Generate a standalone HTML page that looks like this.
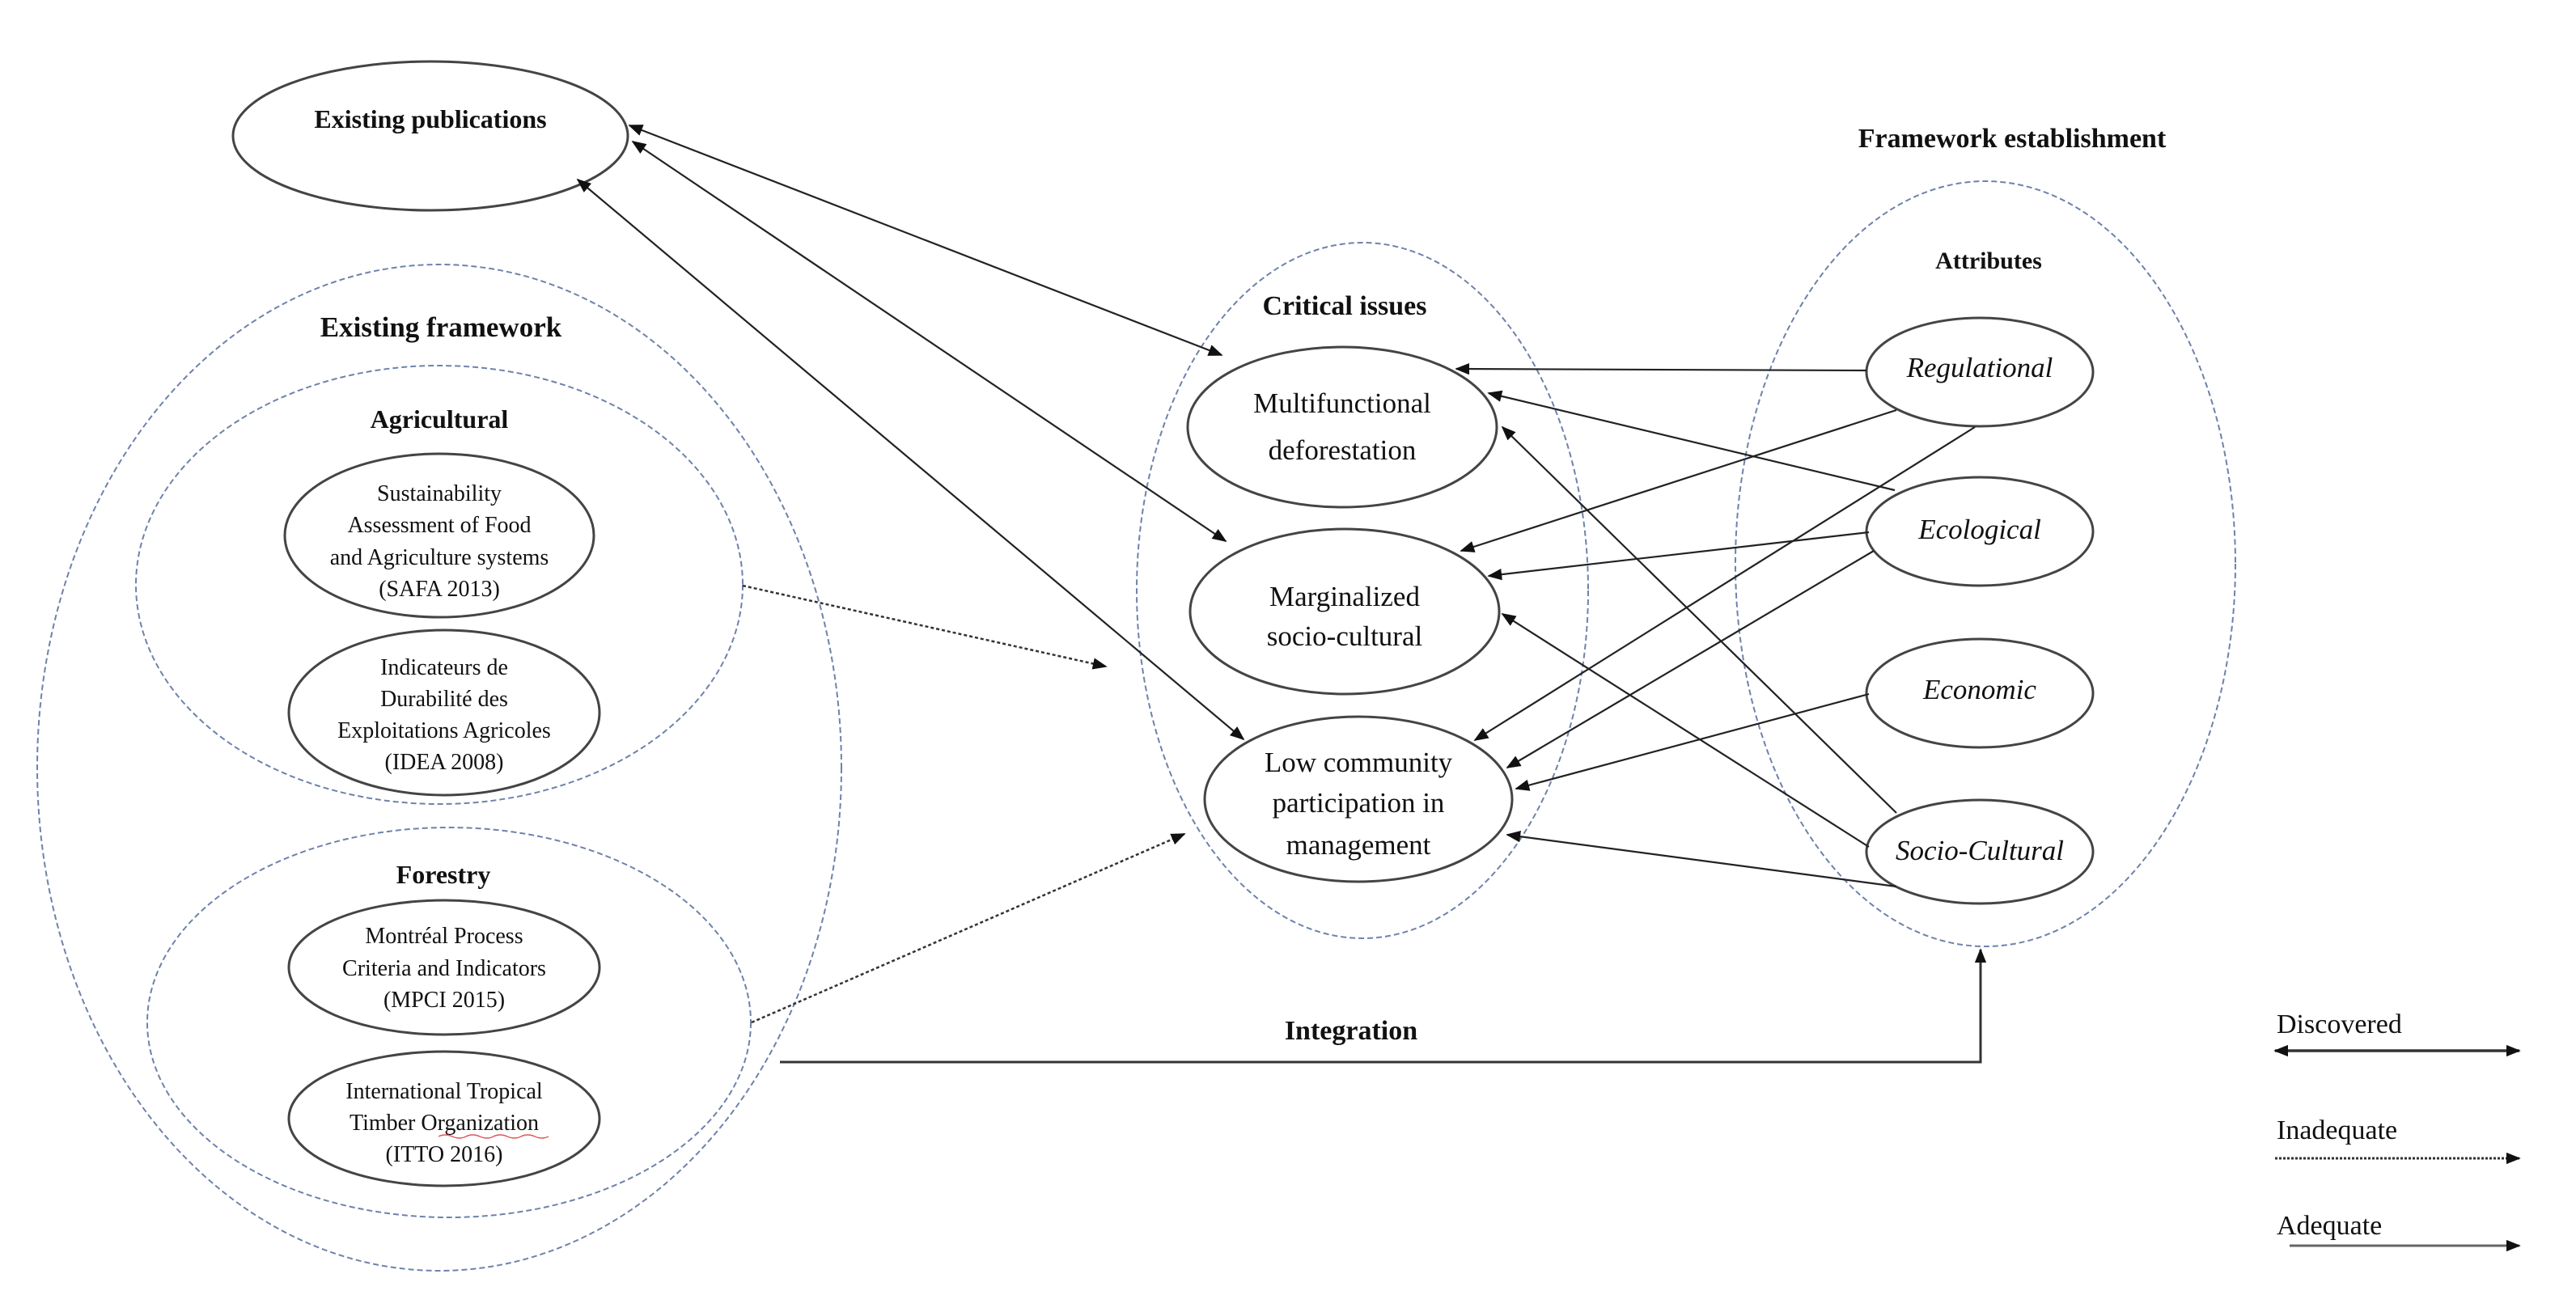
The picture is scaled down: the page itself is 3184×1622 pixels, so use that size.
<!DOCTYPE html>
<html><head><meta charset="utf-8"><style>
html,body{margin:0;padding:0;background:#fff;}
svg{display:block;}
text{font-family:"Liberation Serif",serif;fill:#111;}
.b{font-weight:bold;}
.i{font-style:italic;}
</style></head><body>
<svg width="3184" height="1622" viewBox="0 0 3184 1622" xmlns="http://www.w3.org/2000/svg">
<defs>
<marker id="ahL" viewBox="0 0 10 10" refX="9" refY="5" markerWidth="18" markerHeight="18" markerUnits="userSpaceOnUse" orient="auto-start-reverse">
<path d="M0,1 L10,5 L0,9 z" fill="#111"/></marker>
</defs>
<g fill="none" stroke="#6f82ab" stroke-width="2" stroke-dasharray="7 4">
<ellipse cx="543" cy="949" rx="497" ry="622"/>
<ellipse cx="543" cy="723" rx="375" ry="271"/>
<ellipse cx="555" cy="1264" rx="373" ry="241"/>
<ellipse cx="1684" cy="730" rx="279" ry="430"/>
<ellipse cx="2454" cy="697" rx="309" ry="473"/>
</g>
<g fill="#fff" stroke="#444" stroke-width="3">
<ellipse cx="532" cy="168" rx="244" ry="92"/>
<ellipse cx="543" cy="662" rx="191" ry="101"/>
<ellipse cx="549" cy="881" rx="192" ry="102"/>
<ellipse cx="549" cy="1196" rx="192" ry="83"/>
<ellipse cx="549" cy="1383" rx="192" ry="83"/>
<ellipse cx="1659" cy="528" rx="191" ry="99"/>
<ellipse cx="1662" cy="756" rx="191" ry="102"/>
<ellipse cx="1679" cy="988" rx="190" ry="102"/>
<ellipse cx="2447" cy="460" rx="140" ry="67"/>
<ellipse cx="2447" cy="657" rx="140" ry="67"/>
<ellipse cx="2447" cy="857" rx="140" ry="67"/>
<ellipse cx="2447" cy="1053" rx="140" ry="64"/>
</g>
<g stroke="#222" stroke-width="2.2" fill="none" marker-end="url(#ahL)">
<line x1="2307" y1="458" x2="1800" y2="456"/>
<line x1="2344" y1="507" x2="1806" y2="681"/>
<line x1="2441" y1="528" x2="1823" y2="915"/>
<line x1="2342" y1="606" x2="1840" y2="486"/>
<line x1="2310" y1="658" x2="1840" y2="712"/>
<line x1="2316" y1="681" x2="1863" y2="949"/>
<line x1="2310" y1="858" x2="1874" y2="975"/>
<line x1="2344" y1="1005" x2="1857" y2="528"/>
<line x1="2310" y1="1047" x2="1857" y2="759"/>
<line x1="2344" y1="1096" x2="1863" y2="1032"/>
</g>
<g stroke="#222" stroke-width="2.2" fill="none" marker-end="url(#ahL)" marker-start="url(#ahL)">
<line x1="778" y1="155" x2="1510" y2="439"/>
<line x1="782" y1="175" x2="1515" y2="669"/>
<line x1="714" y1="222" x2="1537" y2="914"/>
</g>
<g stroke="#333" stroke-width="2.5" stroke-dasharray="4 3" fill="none" marker-end="url(#ahL)">
<line x1="918" y1="724" x2="1367" y2="824"/>
<line x1="929" y1="1264" x2="1464" y2="1031"/>
</g>
<polyline points="964,1313 2448,1313 2448,1174" fill="none" stroke="#333" stroke-width="3" marker-end="url(#ahL)"/>
<line x1="2812" y1="1299" x2="3114" y2="1299" stroke="#333" stroke-width="3.5" marker-start="url(#ahL)" marker-end="url(#ahL)"/>
<line x1="2812" y1="1432" x2="3114" y2="1432" stroke="#333" stroke-width="3" stroke-dasharray="3 2" marker-end="url(#ahL)"/>
<line x1="2830" y1="1540" x2="3114" y2="1540" stroke="#666" stroke-width="3" marker-end="url(#ahL)"/>
<g text-anchor="middle">
<text x="532" y="158" class="b" font-size="32">Existing publications</text>
<text x="545" y="416" class="b" font-size="35">Existing framework</text>
<text x="543" y="529" class="b" font-size="32">Agricultural</text>
<g font-size="28">
<text x="543" y="619">Sustainability</text>
<text x="543" y="658">Assessment of Food</text>
<text x="543" y="698">and Agriculture systems</text>
<text x="543" y="737">(SAFA 2013)</text>
<text x="549" y="834">Indicateurs de</text>
<text x="549" y="873">Durabilité des</text>
<text x="549" y="912">Exploitations Agricoles</text>
<text x="549" y="951">(IDEA 2008)</text>
<text x="549" y="1166">Montréal Process</text>
<text x="549" y="1206">Criteria and Indicators</text>
<text x="549" y="1245">(MPCI 2015)</text>
<text x="549" y="1358">International Tropical</text>
<text x="549" y="1397">Timber Organization</text>
<text x="549" y="1436">(ITTO 2016)</text>
</g>
<text x="548" y="1092" class="b" font-size="32">Forestry</text>
<text x="1662" y="389" class="b" font-size="34">Critical issues</text>
<g font-size="35">
<text x="1659" y="510">Multifunctional</text>
<text x="1659" y="568">deforestation</text>
<text x="1662" y="749">Marginalized</text>
<text x="1662" y="798">socio-cultural</text>
<text x="1679" y="954">Low community</text>
<text x="1679" y="1004">participation in</text>
<text x="1679" y="1056">management</text>
</g>
<text x="2487" y="182" class="b" font-size="34">Framework establishment</text>
<text x="2458" y="332" class="b" font-size="30">Attributes</text>
<g class="i" font-size="35">
<text x="2447" y="466">Regulational</text>
<text x="2447" y="666">Ecological</text>
<text x="2447" y="864">Economic</text>
<text x="2447" y="1063">Socio-Cultural</text>
</g>
<text x="1670" y="1285" class="b" font-size="34">Integration</text>
</g>
<g font-size="34">
<text x="2814" y="1277">Discovered</text>
<text x="2814" y="1408">Inadequate</text>
<text x="2814" y="1526">Adequate</text>
</g>
<path d="M542,1405 q8,-4 17,0 t17,0 t17,0 t17,0 t17,0 t17,0 t17,0 t17,0" fill="none" stroke="#e05555" stroke-width="1.5"/>
</svg>
</body></html>
